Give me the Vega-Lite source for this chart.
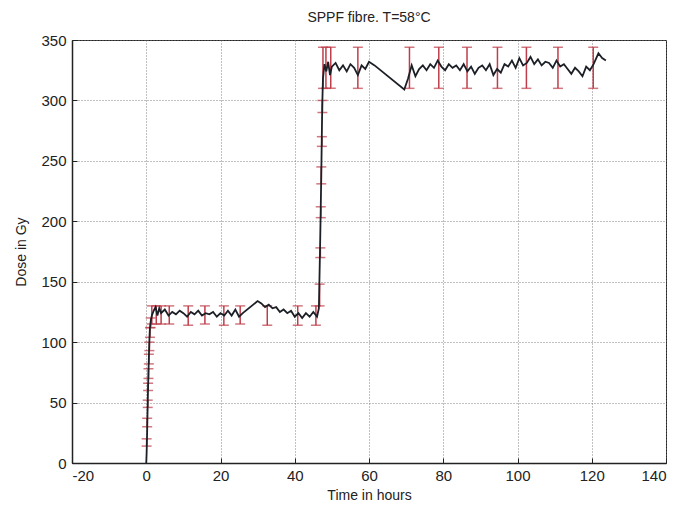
{
  "$schema": "https://vega.github.io/schema/vega-lite/v6.json",
  "width": 594,
  "height": 423,
  "autosize": {"type": "none"},
  "padding": {"left": 72, "top": 40, "right": 15, "bottom": 42},
  "background": "#ffffff",
  "title": {"text": "SPPF fibre. T=58°C", "font": "Liberation Sans", "fontSize": 14, "fontWeight": "normal", "color": "#222", "offset": 8},
  "config": {
    "view": {"stroke": "#222", "strokeWidth": 1},
    "axis": {
      "labelFont": "Liberation Sans", "labelFontSize": 15, "labelColor": "#222",
      "titleFont": "Liberation Sans", "titleFontSize": 14, "titleFontWeight": "normal", "titleColor": "#222",
      "domainColor": "#222", "domainWidth": 1.5,
      "gridColor": "#777", "gridDash": [1, 2], "gridWidth": 1, "gridOpacity": 0.9,
      "ticks": true, "tickSize": -5, "tickColor": "#222", "tickWidth": 1,
      "labelExpr": "replace(datum.label, '\u2212', '-')"
    }
  },
  "datasets": {
    "line": [
      {"t": 0, "dose": 0}, {"t": 0.1, "dose": 8}, {"t": 0.2, "dose": 20}, {"t": 0.3, "dose": 35},
      {"t": 0.4, "dose": 50}, {"t": 0.5, "dose": 64}, {"t": 0.6, "dose": 75}, {"t": 0.7, "dose": 87},
      {"t": 0.8, "dose": 97}, {"t": 0.9, "dose": 106}, {"t": 1.0, "dose": 112}, {"t": 1.2, "dose": 117},
      {"t": 1.5, "dose": 122}, {"t": 2, "dose": 126}, {"t": 2.5, "dose": 129}, {"t": 3, "dose": 122},
      {"t": 3.5, "dose": 128}, {"t": 4, "dose": 124}, {"t": 5, "dose": 127}, {"t": 6, "dose": 122},
      {"t": 7, "dose": 125}, {"t": 8, "dose": 123}, {"t": 9, "dose": 126}, {"t": 10, "dose": 124},
      {"t": 11, "dose": 121}, {"t": 12, "dose": 125}, {"t": 13, "dose": 123}, {"t": 14, "dose": 126},
      {"t": 15, "dose": 122}, {"t": 16, "dose": 124}, {"t": 17, "dose": 123}, {"t": 18, "dose": 125},
      {"t": 19, "dose": 121}, {"t": 20, "dose": 124}, {"t": 21, "dose": 122}, {"t": 22, "dose": 126},
      {"t": 23, "dose": 122}, {"t": 24, "dose": 127}, {"t": 25, "dose": 121}, {"t": 26, "dose": 124},
      {"t": 30, "dose": 134}, {"t": 31, "dose": 132}, {"t": 32, "dose": 129}, {"t": 33, "dose": 131},
      {"t": 34, "dose": 128}, {"t": 35, "dose": 129}, {"t": 36, "dose": 125}, {"t": 37, "dose": 127},
      {"t": 38, "dose": 124}, {"t": 39, "dose": 126}, {"t": 40, "dose": 121}, {"t": 41, "dose": 124},
      {"t": 42, "dose": 120}, {"t": 43, "dose": 124}, {"t": 44, "dose": 121}, {"t": 45, "dose": 125},
      {"t": 46, "dose": 121}, {"t": 46.5, "dose": 128}, {"t": 46.8, "dose": 175}, {"t": 47, "dose": 210},
      {"t": 47.2, "dose": 250}, {"t": 47.4, "dose": 295}, {"t": 47.6, "dose": 318}, {"t": 48, "dose": 330},
      {"t": 48.5, "dose": 324}, {"t": 49, "dose": 332}, {"t": 49.5, "dose": 321}, {"t": 50, "dose": 328},
      {"t": 51, "dose": 331}, {"t": 52, "dose": 325}, {"t": 53, "dose": 329}, {"t": 54, "dose": 324},
      {"t": 55, "dose": 330}, {"t": 56, "dose": 327}, {"t": 57, "dose": 321}, {"t": 58, "dose": 329},
      {"t": 59, "dose": 326}, {"t": 60, "dose": 332}, {"t": 61.5, "dose": 329}, {"t": 69.5, "dose": 309},
      {"t": 70.5, "dose": 318}, {"t": 71.5, "dose": 329}, {"t": 72.5, "dose": 320}, {"t": 73.5, "dose": 326},
      {"t": 74.5, "dose": 329}, {"t": 75.5, "dose": 325}, {"t": 76.5, "dose": 330}, {"t": 77.5, "dose": 327},
      {"t": 78.5, "dose": 333}, {"t": 79.5, "dose": 328}, {"t": 80.5, "dose": 325}, {"t": 81.5, "dose": 330},
      {"t": 82.5, "dose": 327}, {"t": 83.5, "dose": 329}, {"t": 84.5, "dose": 325}, {"t": 85.5, "dose": 330},
      {"t": 86.5, "dose": 324}, {"t": 87.5, "dose": 328}, {"t": 88.5, "dose": 322}, {"t": 89.5, "dose": 327},
      {"t": 90.5, "dose": 329}, {"t": 91.5, "dose": 325}, {"t": 92.5, "dose": 330}, {"t": 93.5, "dose": 321},
      {"t": 94.5, "dose": 326}, {"t": 95.5, "dose": 323}, {"t": 96.5, "dose": 330}, {"t": 97.5, "dose": 328},
      {"t": 98.5, "dose": 333}, {"t": 99.5, "dose": 327}, {"t": 100.5, "dose": 335}, {"t": 101.5, "dose": 329},
      {"t": 102.5, "dose": 331}, {"t": 103.5, "dose": 336}, {"t": 104.5, "dose": 330}, {"t": 105.5, "dose": 334},
      {"t": 106.5, "dose": 329}, {"t": 107.5, "dose": 332}, {"t": 108.5, "dose": 331}, {"t": 109.5, "dose": 327},
      {"t": 110.5, "dose": 333}, {"t": 111.5, "dose": 328}, {"t": 112.5, "dose": 330}, {"t": 113.5, "dose": 326},
      {"t": 114.5, "dose": 322}, {"t": 115.5, "dose": 327}, {"t": 116.5, "dose": 324}, {"t": 117.5, "dose": 320},
      {"t": 118.5, "dose": 328}, {"t": 119.5, "dose": 325}, {"t": 120.5, "dose": 330}, {"t": 121.8, "dose": 339},
      {"t": 122.8, "dose": 335}, {"t": 123.8, "dose": 333}
    ],
    "err": [
      {"t": 0.1, "lo": 14, "hi": 20}, {"t": 0.25, "lo": 30, "hi": 37}, {"t": 0.4, "lo": 46, "hi": 52},
      {"t": 0.5, "lo": 60, "hi": 66}, {"t": 0.6, "lo": 70, "hi": 78}, {"t": 0.7, "lo": 82, "hi": 90},
      {"t": 0.85, "lo": 93, "hi": 100}, {"t": 1.0, "lo": 104, "hi": 112}, {"t": 1.2, "lo": 112, "hi": 120},
      {"t": 1.5, "lo": 115, "hi": 130}, {"t": 2.7, "lo": 115, "hi": 130}, {"t": 4, "lo": 115, "hi": 130},
      {"t": 6.2, "lo": 115, "hi": 130}, {"t": 11.3, "lo": 114, "hi": 130}, {"t": 15.8, "lo": 115, "hi": 130},
      {"t": 20.9, "lo": 114, "hi": 130}, {"t": 25.3, "lo": 115, "hi": 130}, {"t": 32.6, "lo": 114, "hi": 130},
      {"t": 40.8, "lo": 114, "hi": 130}, {"t": 45.7, "lo": 114, "hi": 130},
      {"t": 46.7, "lo": 130, "hi": 148}, {"t": 46.9, "lo": 170, "hi": 178}, {"t": 47, "lo": 203, "hi": 212},
      {"t": 47.15, "lo": 231, "hi": 245}, {"t": 47.3, "lo": 262, "hi": 270}, {"t": 47.45, "lo": 290, "hi": 300},
      {"t": 47.6, "lo": 310, "hi": 344}, {"t": 48.4, "lo": 310, "hi": 344}, {"t": 49.7, "lo": 310, "hi": 344},
      {"t": 57, "lo": 310, "hi": 344}, {"t": 70.9, "lo": 310, "hi": 344}, {"t": 78.8, "lo": 310, "hi": 344},
      {"t": 86.4, "lo": 310, "hi": 344}, {"t": 94.6, "lo": 310, "hi": 344}, {"t": 102.4, "lo": 310, "hi": 344},
      {"t": 110.9, "lo": 310, "hi": 344}, {"t": 120.4, "lo": 310, "hi": 344}
    ]
  },
  "layer": [
    {
      "data": {"name": "err"},
      "mark": {"type": "errorbar", "ticks": {"size": 10, "color": "#bf3d4a", "strokeWidth": 1.5}, "color": "#bf3d4a", "thickness": 1.5},
      "encoding": {
        "x": {"field": "t", "type": "quantitative", "scale": {"domain": [-20, 140], "nice": false, "zero": false},
              "axis": {"title": "Time in hours", "values": [-20, 0, 20, 40, 60, 80, 100, 120, 140], "labelPadding": 10, "titlePadding": 5, "grid": true}},
        "y": {"field": "lo", "type": "quantitative", "scale": {"domain": [0, 350], "nice": false},
              "axis": {"title": "Dose in Gy", "values": [0, 50, 100, 150, 200, 250, 300, 350], "labelPadding": 11, "titlePadding": 12, "grid": true}},
        "y2": {"field": "hi"}
      }
    },
    {
      "data": {"name": "line"},
      "mark": {"type": "line", "color": "#1c2026", "strokeWidth": 1.8},
      "encoding": {
        "x": {"field": "t", "type": "quantitative"},
        "y": {"field": "dose", "type": "quantitative"}
      }
    }
  ]
}
